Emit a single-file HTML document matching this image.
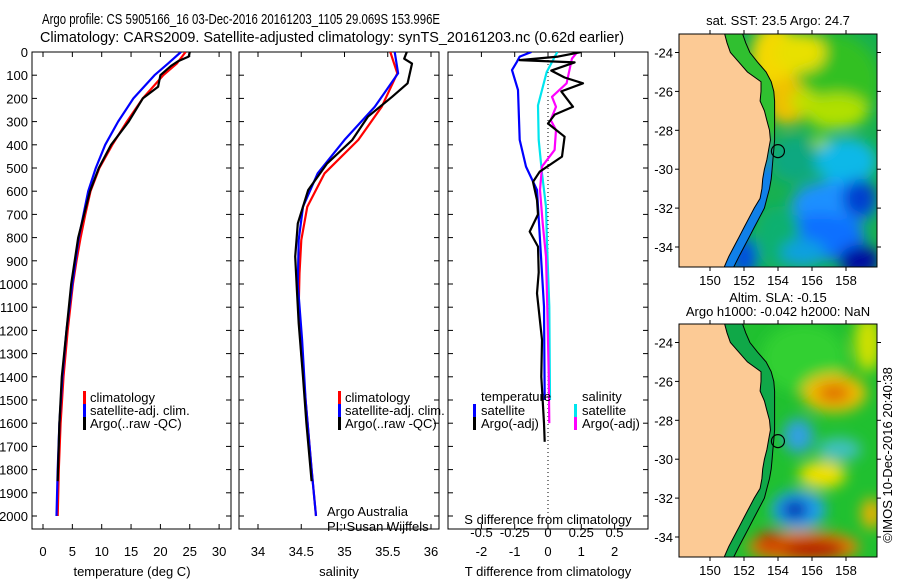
<!DOCTYPE html>
<html><head><meta charset="utf-8"><style>
html,body{margin:0;padding:0;background:#fff;}
svg{display:block;font-family:"Liberation Sans",sans-serif;}
</style></head><body>
<svg id="fig" width="900" height="580" viewBox="0 0 900 580" xmlns="http://www.w3.org/2000/svg">
<defs>
<clipPath id="cp1"><rect x="32" y="52" width="199" height="477"/></clipPath>
<clipPath id="cp2"><rect x="239" y="52" width="200" height="477"/></clipPath>
<clipPath id="cp3"><rect x="448" y="52" width="200" height="477"/></clipPath>
<clipPath id="cm1"><rect x="679" y="34" width="198" height="233"/></clipPath>
<clipPath id="cm2"><rect x="679" y="324" width="198" height="233"/></clipPath>
<filter id="bl" x="-20%" y="-20%" width="140%" height="140%"><feGaussianBlur stdDeviation="7"/></filter>
</defs>
<text x="42" y="24" font-size="15" textLength="398" lengthAdjust="spacingAndGlyphs">Argo profile: CS 5905166_16 03-Dec-2016 20161203_1105 29.069S 153.996E</text>
<text x="40" y="42" font-size="15" textLength="584" lengthAdjust="spacingAndGlyphs">Climatology: CARS2009. Satellite-adjusted climatology: synTS_20161203.nc (0.62d earlier)</text>
<g id="g1"></g>
<g id="g2"></g>
<g id="g3"></g>
<g id="m1"></g>
<g id="m2"></g>
<text transform="translate(892,455) rotate(-90)" text-anchor="middle" font-size="13">©IMOS 10-Dec-2016 20:40:38</text>
</svg>
<script>
// ---- data ----
const depthTicks=[0,100,200,300,400,500,600,700,800,900,1000,1100,1200,1300,1400,1500,1600,1700,1800,1900,2000];
const tempTicks=[0,5,10,15,20,25,30];
const salTicks=[34,34.5,35,35.5,36];
const tdiffTicks=[-2,-1,0,1,2];
const sdiffTicks=[-0.5,-0.25,0,0.25,0.5];
const tClimDepth=[0,50,100,200,300,400,500,600,700,800,900,1000,1200,1400,1600,1800,2000];
const tClimVal=[24.3,22.8,20.5,17,14.3,11.8,9.6,8.1,7.2,6.4,5.7,5.1,4.2,3.5,3.0,2.7,2.5];
const tSatDepth=[0,50,100,200,300,400,500,600,700,800,1000,1200,1400,1600,1800,2000];
const tSatVal=[23.5,21.3,19,15.4,12.8,10.6,9.0,7.7,6.9,6.1,5.0,4.0,3.3,2.8,2.5,2.3];
const tArgoDepth=[0,20,40,60,100,150,200,300,400,500,600,800,1000,1200,1400,1600,1850];
const tArgoVal=[25,24.8,23,21.8,20,19.6,17,14.6,11.6,9.5,8.0,6.0,4.8,4.0,3.2,2.8,2.5];
const sClimDepth=[0,92,236,379,523,667,810,954,1098,1300,1500,1800,2000];
const sClimVal=[35.53,35.61,35.43,35.16,34.77,34.57,34.5,34.48,34.47,34.5,34.55,34.62,34.67];
const sSatDepth=[0,92,236,379,523,667,810,1000,1241,1500,1800,2000];
const sSatVal=[35.58,35.62,35.35,35.0,34.69,34.52,34.47,34.46,34.51,34.55,34.62,34.67];
const sArgoDepth=[0,29,50,135,193,279,379,480,595,739,882,1026,1170,1400,1600,1850];
const sArgoVal=[35.72,35.69,35.78,35.73,35.55,35.27,35.09,34.8,34.58,34.46,34.43,34.45,34.47,34.52,34.56,34.62];
const dTsatDepth=[0,20,42,78,164,379,494,595,810,1098,1500];
const dTsatVal=[-0.5,-0.85,-0.93,-1.08,-0.9,-0.85,-0.66,-0.33,-0.24,-0.12,-0.1];
const dTargoDepth=[0,20,35,45,80,110,135,170,236,270,308,365,451,516,560,638,700,774,839,950,1040,1241,1400,1600,1680];
const dTargoVal=[1.0,0.3,-0.85,0.8,0.1,0.5,1.05,0.4,0.75,0.2,0,0.5,0.42,-0.25,-0.45,-0.33,-0.3,-0.55,-0.3,-0.28,-0.33,-0.18,-0.2,-0.12,-0.1];
const dSsatDepth=[0,86,230,379,523,667,810,1098,1500];
const dSsatVal=[0.07,-0.01,-0.075,-0.07,-0.045,-0.015,-0.008,0.01,0.015];
const dSargoDepth=[0,29,135,193,236,293,336,422,494,595,739,882,1100,1385,1600];
const dSargoVal=[0.22,0.18,0.14,0.03,0.06,0.02,0.06,0.05,-0.045,-0.06,-0.04,-0.015,-0.005,0.005,0.01];
const mapLonTicks=[150,152,154,156,158];
const mapLatTicks=[-24,-26,-28,-30,-32,-34];
const coastLat=[-23.0,-23.5,-24,-24.5,-25,-25.5,-26,-26.5,-27,-27.5,-28,-28.5,-29,-29.5,-30,-30.5,-31,-31.5,-32,-32.5,-33,-33.5,-34,-34.5,-35.2];
const coastLon=[150.85,151.0,151.2,151.7,152.2,153.0,153.0,152.95,153.2,153.35,153.5,153.55,153.45,153.35,153.2,153.1,153.05,152.95,152.6,152.3,152.0,151.7,151.4,151.1,150.75];
const isoLon=[151.9,152.1,152.35,152.8,153.3,153.6,153.75,153.8,153.8,153.8,153.8,153.8,153.75,153.7,153.65,153.6,153.5,153.35,153.2,152.9,152.6,152.3,152.0,151.7,151.3];
const argoLon=153.996, argoLat=-29.069;

const NS="http://www.w3.org/2000/svg";
function mk(p,t,a){const e=document.createElementNS(NS,t);for(const k in a)e.setAttribute(k,a[k]);p.appendChild(e);return e;}
const yD=d=>52+d*0.232;
const xT=v=>43+v*5.87;
const xS=v=>258+(v-34)*86.5;
const xDT=v=>548+v*33.3;
const xDS=v=>548+v*133;

function frame(g,x0,x1,name){
  const r=mk(g,'rect',{x:x0,y:52,width:x1-x0,height:477,fill:'none',stroke:'#000','stroke-width':1});
  
  
  depthTicks.forEach(d=>{
    const y=yD(d);
    mk(g,'line',{x1:x0,y1:y,x2:x0+5,y2:y,stroke:'#000'});
    mk(g,'line',{x1:x1,y1:y,x2:x1-5,y2:y,stroke:'#000'});
  });
}
function xticks(g,vals,fx,y0,lbly,name){
  vals.forEach(v=>{
    const x=fx(v);
    mk(g,'line',{x1:x,y1:52,x2:x,y2:57,stroke:'#000'});
    mk(g,'line',{x1:x,y1:529,x2:x,y2:524,stroke:'#000'});
    if(lbly){const t=mk(g,'text',{x:x,y:lbly,'text-anchor':'middle','font-size':13});t.textContent=String(v);
      
      }
  });
}
function line(g,ds,vs,fx,col,name,clip,w){
  const pts=ds.map((d,i)=>fx(vs[i]).toFixed(1)+','+yD(d).toFixed(1)).join(' ');
  const p=mk(g,'polyline',{points:pts,fill:'none',stroke:col,'stroke-width':w||2.2,'clip-path':'url(#'+clip+')','stroke-linejoin':'round'});
  
  
}
function txt(g,x,y,s,name,anchor,size){
  const t=mk(g,'text',{x:x,y:y,'font-size':size||13,'text-anchor':anchor||'start'});t.textContent=s;
  
  
  return t;
}
function legMark(g,x,y,col,name){
  const r=mk(g,'rect',{x:x,y:y-11,width:3,height:13,fill:col});
  
  
}

// Panel 1
const g1=document.getElementById('g1');
frame(g1,32,231,'temperature-axes');
depthTicks.forEach(d=>{txt(g1,28,yD(d)+5,String(d),'depth-tick-label','end');});
xticks(g1,tempTicks,xT,529,556,'temperature-tick-label');
txt(g1,132,576,'temperature (deg C)','x-axis-title','middle');
line(g1,tClimDepth,tClimVal,xT,'#ff0000','climatology-temperature-line','cp1');
line(g1,tSatDepth,tSatVal,xT,'#0000ff','satellite-temperature-line','cp1');
line(g1,tArgoDepth,tArgoVal,xT,'#000000','argo-temperature-line','cp1');
legMark(g1,83,402,'#f00','legend-climatology-marker');txt(g1,90,402,'climatology','legend-climatology');
legMark(g1,83,415,'#00f','legend-satellite-marker');txt(g1,90,415,'satellite-adj. clim.','legend-satellite');
legMark(g1,83,428,'#000','legend-argo-marker');txt(g1,90,428,'Argo(..raw -QC)','legend-argo');

// Panel 2
const g2=document.getElementById('g2');
frame(g2,239,439,'salinity-axes');
xticks(g2,salTicks,xS,529,556,'salinity-tick-label');
txt(g2,339,576,'salinity','x-axis-title','middle');
line(g2,sClimDepth,sClimVal,xS,'#ff0000','climatology-salinity-line','cp2');
line(g2,sSatDepth,sSatVal,xS,'#0000ff','satellite-salinity-line','cp2');
line(g2,sArgoDepth,sArgoVal,xS,'#000000','argo-salinity-line','cp2');
legMark(g2,338,402,'#f00','legend-climatology-marker');txt(g2,345,402,'climatology','legend-climatology');
legMark(g2,338,415,'#00f','legend-satellite-marker');txt(g2,345,415,'satellite-adj. clim.','legend-satellite');
legMark(g2,338,428,'#000','legend-argo-marker');txt(g2,345,428,'Argo(..raw -QC)','legend-argo');
txt(g2,327,516,'Argo Australia','credit-argo-australia');
txt(g2,327,531,'PI: Susan Wijffels','credit-pi');

// Panel 3
const g3=document.getElementById('g3');
frame(g3,448,648,'difference-axes');
xticks(g3,tdiffTicks,xDT,529,556,'tdiff-tick-label');
sdiffTicks.forEach(v=>{txt(g3,xDS(v),537,String(v),'sdiff-tick-label','middle');});
txt(g3,548,524,'S difference from climatology','s-axis-title','middle');
txt(g3,548,576,'T difference from climatology','t-axis-title','middle');
mk(g3,'line',{x1:548,y1:52,x2:548,y2:529,stroke:'#000','stroke-dasharray':'1,3'});
line(g3,dSsatDepth,dSsatVal,xDS,'#00e5ee','salinity-satellite-diff-line','cp3');
line(g3,dSargoDepth,dSargoVal,xDS,'#ff00ff','salinity-argo-diff-line','cp3');
line(g3,dTsatDepth,dTsatVal,xDT,'#0000ff','temperature-satellite-diff-line','cp3');
line(g3,dTargoDepth,dTargoVal,xDT,'#000000','temperature-argo-diff-line','cp3');
txt(g3,481,401,'temperature','legend-temperature-heading');
legMark(g3,473,415,'#00f','legend-tsat-marker');txt(g3,481,415,'satellite','legend-tsat');
legMark(g3,473,428,'#000','legend-targo-marker');txt(g3,481,428,'Argo(-adj)','legend-targo');
txt(g3,582,401,'salinity','legend-salinity-heading');
legMark(g3,574,415,'#00e5ee','legend-ssat-marker');txt(g3,582,415,'satellite','legend-ssat');
legMark(g3,574,428,'#ff00ff','legend-sargo-marker');txt(g3,582,428,'Argo(-adj)','legend-sargo');

// Maps
function mapPanel(id,top,clip,blobs,base,stripN,stripS,title1,title2){
  const g=document.getElementById(id);
  const xL=v=>710+(v-150)*17;
  const yL=v=>top+18.5+(-24-v)*19.45;
  const cg=mk(g,'g',{'clip-path':'url(#'+clip+')'});
  mk(cg,'rect',{x:679,y:top,width:198,height:233,fill:base});
  const bg=mk(cg,'g',{filter:'url(#bl)'});
  blobs.forEach(b=>{mk(bg,'ellipse',{cx:xL(b[0]),cy:yL(b[1]),rx:b[2]*17,ry:b[3]*19.45,fill:b[4]});});
  const stripPts=coastLat.map((la,i)=>xL(coastLon[i]).toFixed(1)+','+yL(la).toFixed(1)).join(' ')+' '+
    coastLat.slice().reverse().map((la,j)=>{const i=coastLat.length-1-j;return xL(isoLon[i]).toFixed(1)+','+yL(la).toFixed(1);}).join(' ');
  const grad=mk(cg,'linearGradient',{id:id+'sg',x1:0,y1:0,x2:0,y2:1});
  mk(grad,'stop',{offset:'0.4',"stop-color":stripN});
  mk(grad,'stop',{offset:'0.6',"stop-color":stripS});
  mk(cg,'polygon',{points:stripPts,fill:'url(#'+id+'sg)'});
  let pts='679,'+(top-5)+' ';
  pts+=coastLat.map((la,i)=>xL(coastLon[i]).toFixed(1)+','+yL(la).toFixed(1)).join(' ');
  pts+=' 679,'+(top+240);
  const land=mk(cg,'polygon',{points:pts,fill:'#fcca95',stroke:'#000','stroke-width':1});
  
  
  const iso=coastLat.map((la,i)=>xL(isoLon[i]).toFixed(1)+','+yL(la).toFixed(1)).join(' ');
  mk(cg,'polyline',{points:iso,fill:'none',stroke:'#000','stroke-width':1});
  const c=mk(cg,'circle',{cx:xL(argoLon),cy:yL(argoLat),r:6.5,fill:'none',stroke:'#000','stroke-width':1.2});
  
  
  const fr=mk(g,'rect',{x:679,y:top,width:198,height:233,fill:'none',stroke:'#000'});
  
  
  mapLonTicks.forEach(v=>{const x=xL(v);mk(g,'line',{x1:x,y1:top,x2:x,y2:top-4,stroke:'#000'});mk(g,'line',{x1:x,y1:top+233,x2:x,y2:top+237,stroke:'#000'});
    txt(g,x,top+251,String(v),'lon-tick-label','middle');});
  mapLatTicks.forEach(v=>{const y=yL(v);mk(g,'line',{x1:679,y1:y,x2:675,y2:y,stroke:'#000'});mk(g,'line',{x1:877,y1:y,x2:881,y2:y,stroke:'#000'});
    txt(g,673,y+5,String(v),'lat-tick-label','end');});
  if(title2){txt(g,778,top-22,title1,'map-title','middle');txt(g,778,top-8,title2,'map-subtitle','middle');}
  else txt(g,778,top-9,title1,'map-title','middle');
}
const sstBlobs=[[157,-25.5,3,2.5,'#30c020'],[153.8,-24.3,1.4,1.8,'#f5d800'],[154.5,-26.5,1.2,1.2,'#f0c000'],[155.3,-24,1.5,1.0,'#e8e000'],
[157.5,-27,1.8,0.9,'#b0e000'],[155.5,-26.5,0.8,0.6,'#c0e000'],[156.5,-28.8,0.7,0.5,'#a0e010'],[155,-29.5,1.5,1.2,'#10a880'],[158,-29.6,1.8,1.2,'#10b8e8'],[157.3,-31.8,2.5,1.2,'#1c90ff'],[158.8,-31.5,1,1,'#0040d0'],
[156.5,-33.5,2.6,1.2,'#1070ff'],[158.8,-34.7,1.2,0.8,'#0010a0'],[154,-33.5,1.3,1.6,'#10b070'],[155.5,-34.3,1.3,0.7,'#10a0e0'],[152,-34.5,0.8,1,'#0050e0']];
mapPanel('m1',34,'cm1',sstBlobs,'#18b050','#30c030','#1080e8','sat. SST: 23.5 Argo: 24.7');
const slaBlobs=[[155.5,-24.8,2.5,1.8,'#30d030'],[159.3,-24,0.8,1.5,'#d0e000'],[157.3,-26.6,1.9,1.0,'#f0c000'],[157.3,-26.6,1.0,0.5,'#e07000'],
[155.2,-28.8,0.9,0.9,'#30a0e0'],[157.6,-29.5,1.3,0.6,'#40c0c0'],[156.6,-30.8,1.4,0.7,'#f0e000'],[155.2,-32.6,1.6,1.0,'#20a0f0'],[155,-32.6,0.8,0.5,'#0020b0'],
[155.5,-34.5,3.3,0.8,'#f08000'],[156,-34.6,2,0.5,'#b00000'],[153.5,-34.3,0.8,0.6,'#d04000'],[159.5,-32.8,0.6,0.8,'#f0b000']];
mapPanel('m2',324,'cm2',slaBlobs,'#20c030','#10a848','#10a848','Altim. SLA: -0.15','Argo h1000: -0.042 h2000: NaN');
</script>
</body></html>
